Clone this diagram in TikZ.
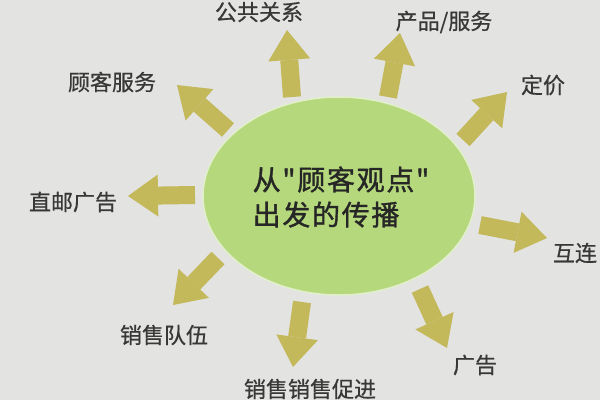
\documentclass[tikz,border=0pt]{standalone}
\usepackage{fontspec}
\newfontfamily\cjk{Noto Sans CJK SC}[FakeBold=0.6]
\newfontfamily\cjkc{Noto Sans CJK SC}[FakeBold=1.2,LetterSpace=6]
\usetikzlibrary{shapes.geometric,arrows.meta}
\definecolor{paper}{HTML}{E3E3E1}
\definecolor{leaf}{HTML}{B6D87C}
\definecolor{khaki}{HTML}{C3B85A}
\definecolor{ink}{HTML}{383838}
\tikzset{
  blob/.style={ellipse, fill=leaf, draw=leaf!40!white, line width=1.5pt,
    minimum width=272pt, minimum height=198pt, inner sep=0pt},
  lbl/.style={text=ink, font=\cjk\fontsize{22}{22}\selectfont, inner sep=0pt},
  fat/.style={draw=khaki, line width=18pt,
    -{Triangle[width=42pt,length=30pt,line width=0pt]}},
}
\begin{document}
\begin{tikzpicture}[x=1pt,y=-1pt]
\useasboundingbox (0,0) rectangle (600,400);
\fill[paper] (0,0) rectangle (600,400);
% centre
\node[blob] (c) at (339,196) {};
\node[text=black!85, font=\cjkc\fontsize{28}{35}\selectfont, align=left] (ctext) at (341,197) {从"顾客观点"\\出发的传播};
% labels
\node[lbl] (pr) at (259,12) {公共关系};
\node[lbl] (prod) at (444,22) {产品/服务};
\node[lbl] (price) at (543,85) {定价};
\node[lbl] (net) at (575,253) {互连};
\node[lbl] (ad) at (475,365) {广告};
\node[lbl] (promo) at (310,389) {销售销售促进};
\node[lbl] (sales) at (164,335) {销售队伍};
\node[lbl] (mail) at (73,202) {直邮广告};
\node[lbl] (serv) at (112,82) {顾客服务};
% arrow ends
\coordinate (pr-a) at (292,97);   \coordinate (pr-b) at (287,30);
\coordinate (prod-a) at (388,97); \coordinate (prod-b) at (400,33);
\coordinate (price-a) at (463,140); \coordinate (price-b) at (507,92);
\coordinate (net-a) at (480,225); \coordinate (net-b) at (547,238);
\coordinate (ad-a) at (420,289);  \coordinate (ad-b) at (447,348);
\coordinate (promo-a) at (302,302); \coordinate (promo-b) at (293,367);
\coordinate (sales-a) at (218,258); \coordinate (sales-b) at (173,305);
\coordinate (mail-a) at (195,195); \coordinate (mail-b) at (128,196);
\coordinate (serv-a) at (228,130); \coordinate (serv-b) at (177,85);
% arrows
\draw[fat] (pr-a) -- (pr-b);
\draw[fat] (prod-a) -- (prod-b);
\draw[fat] (price-a) -- (price-b);
\draw[fat] (net-a) -- (net-b);
\draw[fat] (ad-a) -- (ad-b);
\draw[fat] (promo-a) -- (promo-b);
\draw[fat] (sales-a) -- (sales-b);
\draw[fat] (mail-a) -- (mail-b);
\draw[fat] (serv-a) -- (serv-b);
\end{tikzpicture}
\end{document}
